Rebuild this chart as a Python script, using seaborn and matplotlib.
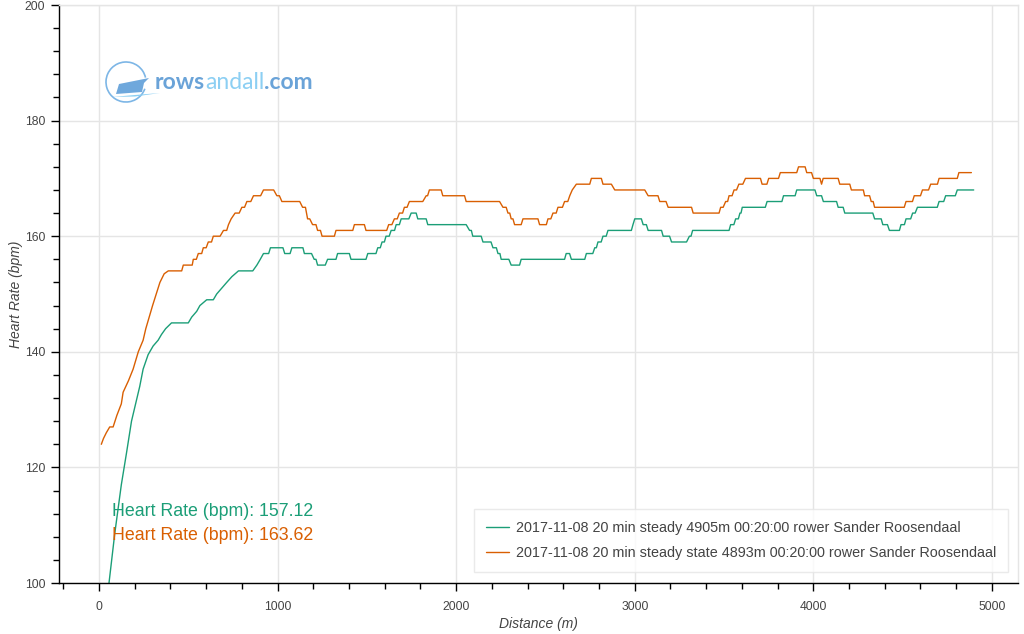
import matplotlib
matplotlib.use("Agg")
import matplotlib.pyplot as plt
from matplotlib.patches import Polygon, Arc
from matplotlib.ticker import MultipleLocator
import seaborn as sns
import pandas as pd

# ---------------- data ----------------
label_a = "2017-11-08 20 min steady 4905m 00:20:00 rower Sander Roosendaal"
label_b = "2017-11-08 20 min steady state 4893m 00:20:00 rower Sander Roosendaal"

green_points = [
    (13, 89), (56, 100), (88, 108.5), (125, 117), (154, 122.5), (182, 128), (228, 134),
    (247, 137), (275, 139.5), (303, 141), (331, 142), (350, 143), (373, 144), (406, 145),
    (500, 145), (519, 146), (547, 147), (565, 148), (603, 149), (640, 149), (659, 150),
    (687, 151), (715, 152), (744, 153), (781, 154), (861, 154), (884, 155), (903, 156),
    (921, 157), (950, 157), (960, 158), (1030, 158), (1040, 157), (1070, 157), (1080, 158),
    (1142, 158), (1150, 157), (1190, 157), (1205, 156), (1215, 156), (1224, 155), (1267, 155),
    (1280, 156), (1327, 156), (1336, 157), (1402, 157), (1411, 156), (1495, 156), (1505, 157),
    (1551, 157), (1561, 158), (1575, 158), (1585, 159), (1598, 159), (1607, 160), (1625, 160),
    (1636, 161), (1655, 161), (1664, 162), (1682, 162), (1692, 163), (1735, 163), (1748, 164),
    (1776, 164), (1785, 163), (1832, 163), (1841, 162), (2056, 162), (2075, 161), (2085, 161),
    (2093, 160), (2140, 160), (2150, 159), (2195, 159), (2206, 158), (2225, 158), (2234, 157),
    (2245, 157), (2252, 156), (2295, 156), (2308, 155), (2355, 155), (2364, 156), (2607, 156),
    (2616, 157), (2635, 157), (2645, 156), (2720, 156), (2729, 157), (2765, 157), (2776, 158),
    (2785, 158), (2794, 159), (2812, 159), (2822, 160), (2840, 160), (2850, 161), (2981, 161),
    (2990, 162), (3000, 163), (3037, 163), (3047, 162), (3065, 162), (3075, 161), (3150, 161),
    (3159, 160), (3195, 160), (3206, 159), (3290, 159), (3306, 160), (3315, 160), (3324, 161),
    (3528, 161), (3537, 162), (3555, 162), (3565, 163), (3580, 163), (3589, 164), (3595, 164),
    (3602, 165), (3731, 165), (3741, 166), (3824, 166), (3833, 167), (3898, 167), (3907, 168),
    (4009, 168), (4019, 167), (4046, 167), (4056, 166), (4130, 166), (4139, 165), (4167, 165),
    (4176, 164), (4333, 164), (4343, 163), (4380, 163), (4389, 162), (4415, 162), (4426, 161),
    (4482, 161), (4491, 162), (4510, 162), (4519, 163), (4545, 163), (4556, 164), (4570, 164),
    (4583, 165), (4694, 165), (4704, 166), (4730, 166), (4741, 167), (4795, 167), (4806, 168),
    (4898, 168),
]

orange_points = [
    (13, 124), (25, 125), (41, 126), (60, 127), (79, 127), (100, 129), (125, 131), (135, 133),
    (165, 135), (191, 137), (220, 140), (247, 142), (262, 144), (300, 148), (341, 152),
    (365, 153.5), (388, 154), (463, 154), (472, 155), (522, 155), (528, 156), (545, 156),
    (556, 157), (575, 157), (584, 158), (600, 158), (612, 159), (630, 159), (640, 160),
    (678, 160), (697, 161), (715, 161), (725, 162), (740, 163), (762, 164), (785, 164),
    (800, 165), (815, 165), (828, 166), (850, 166), (865, 167), (905, 167), (921, 168),
    (978, 168), (996, 167), (1010, 167), (1024, 166), (1124, 166), (1140, 165), (1156, 165),
    (1168, 163), (1180, 163), (1196, 162), (1215, 162), (1224, 161), (1240, 161), (1249, 160),
    (1318, 160), (1327, 161), (1421, 161), (1430, 162), (1486, 162), (1495, 161), (1611, 161),
    (1622, 162), (1640, 162), (1654, 163), (1670, 163), (1682, 164), (1700, 164), (1710, 165),
    (1725, 165), (1738, 166), (1813, 166), (1832, 167), (1840, 167), (1850, 168), (1916, 168),
    (1925, 167), (2047, 167), (2056, 166), (2243, 166), (2262, 165), (2280, 165), (2290, 164),
    (2300, 164), (2308, 163), (2318, 163), (2327, 162), (2364, 162), (2374, 163), (2458, 163),
    (2467, 162), (2505, 162), (2514, 163), (2530, 163), (2542, 164), (2560, 164), (2570, 165),
    (2595, 165), (2607, 166), (2625, 166), (2636, 167), (2650, 168), (2673, 169), (2748, 169),
    (2757, 170), (2813, 170), (2822, 169), (2869, 169), (2888, 168), (3056, 168), (3075, 167),
    (3130, 167), (3140, 166), (3175, 166), (3187, 165), (3318, 165), (3327, 164), (3472, 164),
    (3481, 165), (3495, 165), (3509, 166), (3520, 166), (3528, 167), (3545, 167), (3556, 168),
    (3570, 168), (3583, 169), (3605, 169), (3620, 170), (3704, 170), (3713, 169), (3740, 169),
    (3750, 170), (3805, 170), (3815, 171), (3907, 171), (3917, 172), (3954, 172), (3963, 171),
    (3990, 171), (4000, 170), (4037, 170), (4046, 169), (4055, 170), (4139, 170), (4148, 169),
    (4204, 169), (4213, 168), (4280, 168), (4287, 167), (4315, 167), (4324, 166), (4335, 166),
    (4343, 165), (4509, 165), (4519, 166), (4555, 166), (4565, 167), (4600, 167), (4611, 168),
    (4645, 168), (4657, 169), (4695, 169), (4704, 170), (4806, 170), (4815, 171), (4885, 171),
]

avg_labels = ["Heart Rate (bpm): 157.12", "Heart Rate (bpm): 163.62"]
x_ticks = [0, 1000, 2000, 3000, 4000, 5000]
y_ticks = [100, 120, 140, 160, 180, 200]

GREEN = "#1b9e77"
ORANGE = "#d95f02"
GRID = "#e5e5e5"
TXT = "#444444"

# ---------------- figure ----------------
sns.set_theme(style="white")
plt.rcParams["font.family"] = ["Liberation Sans", "DejaVu Sans"]

W, H = 1024, 634
fig = plt.figure(figsize=(W / 100, H / 100), dpi=100)
L, R, T, B = 59, 1018, 5, 583
ax = fig.add_axes([L / W, 1 - B / H, (R - L) / W, (B - T) / H])

df = pd.concat([
    pd.DataFrame(green_points, columns=["distance", "hr"]).assign(series=label_a),
    pd.DataFrame(orange_points, columns=["distance", "hr"]).assign(series=label_b),
])

sns.lineplot(data=df, x="distance", y="hr", hue="series",
             palette=[GREEN, ORANGE], estimator=None, sort=False,
             linewidth=1.0, ax=ax)

ax.set_xlim(-224, 5146)
ax.set_ylim(100, 200)
ax.set_xticks(x_ticks)
ax.set_yticks(y_ticks)
ax.xaxis.set_minor_locator(MultipleLocator(200))
ax.yaxis.set_minor_locator(MultipleLocator(4))
ax.grid(True, which="major", color=GRID, linewidth=1.0)
ax.set_axisbelow(True)

for s in ["top", "right"]:
    ax.spines[s].set_color(GRID)
    ax.spines[s].set_linewidth(1.0)
for s in ["left", "bottom"]:
    ax.spines[s].set_color("black")
    ax.spines[s].set_linewidth(1.0)

ax.tick_params(which="major", direction="out", length=6, width=1, color="black",
               labelsize=8.7, labelcolor=TXT, left=True, bottom=True, pad=4)
ax.tick_params(axis="x", which="major", pad=7)
ax.tick_params(which="minor", direction="out", length=4, width=1, color="black",
               left=True, bottom=True)

ax.set_xlabel("Distance (m)", fontsize=10, fontstyle="italic", color=TXT, labelpad=3)
ax.set_ylabel("Heart Rate (bpm)", fontsize=10, fontstyle="italic", color=TXT, labelpad=1)

leg = ax.legend(loc="lower right", bbox_to_anchor=((1008 - L) / (R - L), (B - 572) / (B - T)),
                borderaxespad=0, frameon=True, fancybox=False, edgecolor=GRID,
                fontsize=10.4, handlelength=1.6, handletextpad=0.5, borderpad=0.8,
                labelspacing=0.8)
leg.get_frame().set_linewidth(1.0)
for t in leg.get_texts():
    t.set_color(TXT)

# average annotations
fig.text(112 / W, 1 - 512 / H, avg_labels[0], color=GREEN, fontsize=12.8, va="center", ha="left")
fig.text(112 / W, 1 - 535 / H, avg_labels[1], color=ORANGE, fontsize=12.8, va="center", ha="left")

# ---------------- logo ----------------
def px(x, y):
    return (x / W, 1 - y / H)

logo_blue = "#6aa3d8"
logo_light = "#8ccff3"
circ = Arc(px(126, 82), 40 / W, 40 / H, theta1=20, theta2=330,
           transform=fig.transFigure, color="#7db6e6", lw=1.2)
fig.add_artist(circ)
boat = Polygon([px(116, 94), px(119, 84), px(149, 78), px(144, 83), px(142, 92)],
               closed=True, transform=fig.transFigure, facecolor="#6fa8dc",
               edgecolor="none")
fig.add_artist(boat)
wave = Polygon([px(112, 97), px(135, 95), px(160, 93), px(135, 96.5)],
               closed=True, transform=fig.transFigure, facecolor=logo_light,
               edgecolor="none")
fig.add_artist(wave)

t1 = fig.text(155 / W, 1 - 89 / H, "rows", color=logo_blue, fontsize=16.5,
              fontweight="bold", family="Lato", va="baseline", ha="left")
t2 = plt.annotate("andall", xy=(1, 0), xycoords=t1, va="bottom", ha="left",
                  color=logo_light, fontsize=16.5, family="Lato", annotation_clip=False)
t3 = plt.annotate(".com", xy=(1, 0), xycoords=t2, va="bottom", ha="left",
                  color=logo_blue, fontsize=16.5, fontweight="bold", family="Lato",
                  annotation_clip=False)

fig.savefig("out.png", dpi=100)
